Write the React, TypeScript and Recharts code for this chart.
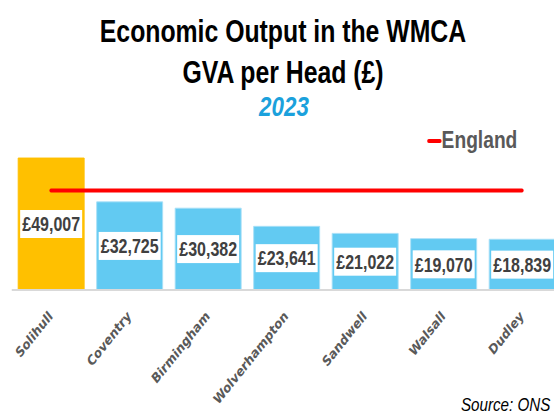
import React from 'react';
import { ComposedChart, Bar, Line, XAxis, YAxis, Cell, LabelList, Legend } from 'recharts';

const categories = ['Solihull', 'Coventry', 'Birmingham', 'Wolverhampton', 'Sandwell', 'Walsall', 'Dudley'];
const gvaPerHead = [49007, 32725, 30382, 23641, 21022, 19070, 18839];
const englandGva = [36900, 36900, 36900, 36900, 36900, 36900, 36900];
const titleLines = ['Economic Output in the WMCA', 'GVA per Head (£)'];
const subtitle = '2023';
const sourceText = 'Source: ONS';

const data = categories.map((name, i) => ({ name, gva: gvaPerHead[i], england: englandGva[i] }));

const SX = 0.8;
const W = 712;
const H = 414;
const FONT = '"Liberation Sans", Arial, sans-serif';

const ValueLabel = (props: any) => {
  const { x, y, width, height, value } = props;
  const cx = x + width / 2;
  const cy = y + height / 2;
  return (
    <g>
      <rect x={cx - 38.75} y={cy - 14} width={77.5} height={28} fill="#ffffff" />
      <text x={cx} y={cy} dy="0.36em" textAnchor="middle" fontFamily={FONT} fontWeight="bold" fontSize={20} fill="#404040">
        {'£' + Number(value).toLocaleString('en-GB')}
      </text>
    </g>
  );
};

const AxisTick = (props: any) => {
  const { x, y, payload } = props;
  return (
    <g transform={`translate(${x + 3},${y + 19})`}>
      <text textAnchor="end" transform="rotate(-45)" fontFamily='"DejaVu Sans", Verdana, sans-serif' fontWeight="bold" fontSize={14} fill="#595959">
        {payload.value}
      </text>
    </g>
  );
};

const LegendContent = () => (
  <div style={{ display: 'flex', alignItems: 'center', fontFamily: FONT, fontWeight: 'bold', fontSize: 24, lineHeight: '24px', color: '#595959', whiteSpace: 'nowrap' }}>
    <span style={{ display: 'inline-block', width: 18, height: 4, background: '#FF0000', borderRadius: 2, marginTop: 2 }} />
    <span>England</span>
  </div>
);

export default function App() {
  return (
    <div style={{ position: 'absolute', left: 0, top: 0, width: 554, height: 414, overflow: 'hidden', background: '#fff' }}>
      <div style={{ position: 'absolute', left: 0, top: 0, width: W, height: H, transform: `scaleX(${SX})`, transformOrigin: '0 0' }}>
        <ComposedChart width={W} height={H} data={data} margin={{ top: 128.4, right: 10.4, bottom: 24, left: 14.7 }}>
          <XAxis dataKey="name" interval={0} height={100} tickLine={false} axisLine={{ stroke: '#D9D9D9', strokeWidth: 2 }} tick={<AxisTick />} />
          <YAxis hide domain={[0, 60000]} />
          <Legend layout="vertical" verticalAlign="middle" align="center" content={<LegendContent />} wrapperStyle={{ position: 'absolute', left: 534, top: 128, width: 'auto' }} />
          <Bar dataKey="gva" barSize={82.5} isAnimationActive={false} legendType="none">
            {data.map((d, i) => (
              <Cell key={d.name} fill={i === 0 ? '#FFC000' : '#62CAF2'} stroke={i === 0 ? '#FFC000' : '#A8E0F7'} strokeWidth={1} />
            ))}
            <LabelList dataKey="gva" content={<ValueLabel />} />
          </Bar>
          <Line dataKey="england" name="England" stroke="#FF0000" strokeWidth={4} strokeLinecap="round" dot={false} activeDot={false} isAnimationActive={false} />
        </ComposedChart>
        <svg width={W} height={H} style={{ position: 'absolute', left: 0, top: 0, pointerEvents: 'none' }}>
          <text x={353.75} y={42} textAnchor="middle" fontFamily={FONT} fontWeight="bold" fontSize={31} fill="#000">{titleLines[0]}</text>
          <text x={353.75} y={83} textAnchor="middle" fontFamily={FONT} fontWeight="bold" fontSize={31} fill="#000">{titleLines[1]}</text>
          <text x={355} y={116} textAnchor="middle" fontFamily={FONT} fontWeight="bold" fontStyle="italic" fontSize={28} fill="#1BA1DC">{subtitle}</text>
          <text x={688} y={411} textAnchor="end" fontFamily={FONT} fontStyle="italic" fontSize={19} fill="#000">{sourceText}</text>
        </svg>
      </div>
    </div>
  );
}
